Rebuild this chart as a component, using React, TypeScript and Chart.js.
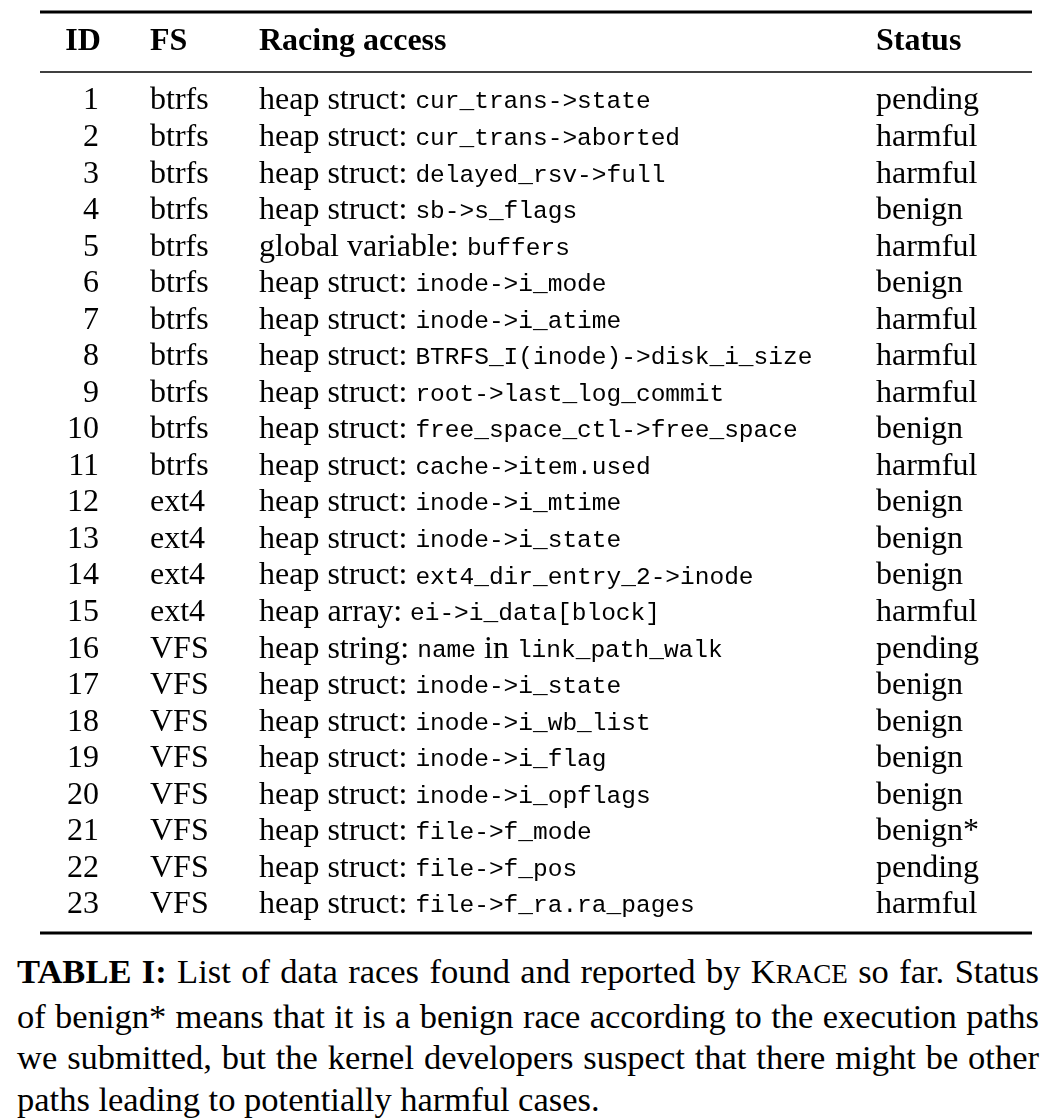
import { useEffect, useRef } from 'react'
import { Chart, registerables } from 'chart.js'

Chart.register(...registerables)

const headers = ['ID', 'FS', 'Racing access', 'Status']
const ids = Array.from({ length: 23 }, (_, i) => String(i + 1))
const fsNames = [
  'btrfs', 'btrfs', 'btrfs', 'btrfs', 'btrfs', 'btrfs', 'btrfs', 'btrfs', 'btrfs', 'btrfs', 'btrfs',
  'ext4', 'ext4', 'ext4', 'ext4',
  'VFS', 'VFS', 'VFS', 'VFS', 'VFS', 'VFS', 'VFS', 'VFS',
]
// alternating segments: serif, mono, serif, mono...
const accesses: string[][] = [
  ['heap struct: ', 'cur_trans->state'],
  ['heap struct: ', 'cur_trans->aborted'],
  ['heap struct: ', 'delayed_rsv->full'],
  ['heap struct: ', 'sb->s_flags'],
  ['global variable: ', 'buffers'],
  ['heap struct: ', 'inode->i_mode'],
  ['heap struct: ', 'inode->i_atime'],
  ['heap struct: ', 'BTRFS_I(inode)->disk_i_size'],
  ['heap struct: ', 'root->last_log_commit'],
  ['heap struct: ', 'free_space_ctl->free_space'],
  ['heap struct: ', 'cache->item.used'],
  ['heap struct: ', 'inode->i_mtime'],
  ['heap struct: ', 'inode->i_state'],
  ['heap struct: ', 'ext4_dir_entry_2->inode'],
  ['heap array: ', 'ei->i_data[block]'],
  ['heap string: ', 'name', ' in ', 'link_path_walk'],
  ['heap struct: ', 'inode->i_state'],
  ['heap struct: ', 'inode->i_wb_list'],
  ['heap struct: ', 'inode->i_flag'],
  ['heap struct: ', 'inode->i_opflags'],
  ['heap struct: ', 'file->f_mode'],
  ['heap struct: ', 'file->f_pos'],
  ['heap struct: ', 'file->f_ra.ra_pages'],
]
const statuses = [
  'pending', 'harmful', 'harmful', 'benign', 'harmful', 'benign', 'harmful', 'harmful', 'harmful', 'benign',
  'harmful', 'benign', 'benign', 'benign', 'harmful', 'pending', 'benign', 'benign', 'benign', 'benign',
  'benign*', 'pending', 'harmful',
]

const SERIF = '"Liberation Serif", "Times New Roman", serif'
const MONO = '"Liberation Mono", "DejaVu Sans Mono", monospace'

const tablePlugin = {
  id: 'tableText',
  afterDraw(chart: Chart) {
    const { ctx } = chart
    const x = chart.scales.x
    const y = chart.scales.y
    ctx.save()
    ctx.fillStyle = '#000'
    ctx.strokeStyle = '#000'
    const rule = (v: number, w: number) => {
      ctx.lineWidth = w
      ctx.beginPath()
      ctx.moveTo(x.getPixelForValue(40), y.getPixelForValue(v))
      ctx.lineTo(x.getPixelForValue(1032), y.getPixelForValue(v))
      ctx.stroke()
    }
    rule(-1.436, 3)
    rule(0.206, 1.6)
    rule(23.766, 3)

    ctx.textBaseline = 'middle'
    ctx.font = `bold 32px ${SERIF}`
    const hy = y.getPixelForValue(-0.614)
    ctx.textAlign = 'center'
    ctx.fillText(headers[0], x.getPixelForValue(83), hy)
    ctx.textAlign = 'left'
    ctx.fillText(headers[1], x.getPixelForValue(150), hy)
    ctx.fillText(headers[2], x.getPixelForValue(259), hy)
    ctx.fillText(headers[3], x.getPixelForValue(876), hy)

    ids.forEach((id, i) => {
      const py = y.getPixelForValue(i + 1)
      ctx.font = `32px ${SERIF}`
      ctx.textAlign = 'right'
      ctx.fillText(id, x.getPixelForValue(99), py)
      ctx.textAlign = 'left'
      ctx.fillText(fsNames[i], x.getPixelForValue(150), py)
      ctx.fillText(statuses[i], x.getPixelForValue(876), py)
      let px = x.getPixelForValue(259)
      accesses[i].forEach((seg, k) => {
        ctx.font = k % 2 === 0 ? `32px ${SERIF}` : `24.5px ${MONO}`
        ctx.fillText(seg, px, py + (k % 2 === 0 ? 0 : 1))
        px += ctx.measureText(seg).width
      })
    })
    ctx.restore()
  },
}

export default function App() {
  const ref = useRef<HTMLCanvasElement>(null)

  useEffect(() => {
    document.body.style.margin = '0'
    if (!ref.current) return
    const chart = new Chart(ref.current, {
      type: 'scatter',
      data: { datasets: [{ data: [] }] },
      options: {
        animation: false,
        responsive: false,
        events: [],
        layout: { padding: 0 },
        plugins: { legend: { display: false }, tooltip: { enabled: false } },
        scales: {
          x: { type: 'linear', min: 0, max: 1053, display: false },
          y: { type: 'linear', min: -1.764, max: 23.958, reverse: true, display: false },
        },
      },
      plugins: [tablePlugin],
    })
    return () => chart.destroy()
  }, [])

  return (
    <div style={{ position: 'relative', width: 1053, height: 1118, background: '#fff' }}>
      <canvas ref={ref} width={1053} height={940} style={{ display: 'block' }} />
      <div
        style={{
          position: 'absolute', left: 17, top: 951, width: 1022,
          fontFamily: SERIF, fontSize: 34.5, lineHeight: '41.5px', textAlign: 'justify', color: '#000',
        }}
      >
        <b>TABLE I:</b> List of data races found and reported by K<span style={{ fontSize: 27 }}>RACE</span> so far.
        Status of benign* means that it is a benign race according to the execution paths we submitted, but the
        kernel developers suspect that there might be other paths leading to potentially harmful cases.
      </div>
    </div>
  )
}
